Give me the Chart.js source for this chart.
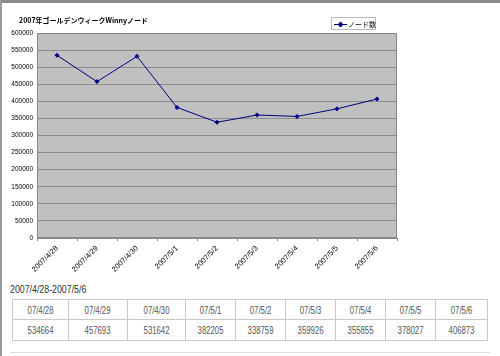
<!DOCTYPE html>
<html><head><meta charset="utf-8">
<script src="https://cdn.jsdelivr.net/npm/chart.js@4/dist/chart.umd.min.js"></script>
<style>
html,body{margin:0;padding:0;background:#fff;width:500px;height:356px;overflow:hidden;position:relative;}
#topbar{position:absolute;left:0;top:0;width:500px;height:3px;background:#8a8a8a;}
#leftbar{position:absolute;left:0;top:0;width:2px;height:356px;background:#9a9a9a;}
#c{position:absolute;left:0;top:0;}
#title{position:absolute;left:19px;top:15px;font:bold 7px "Noto Sans CJK JP","Liberation Sans",sans-serif;color:#000;white-space:nowrap;}
#legend{position:absolute;left:331px;top:17px;width:45px;height:13px;box-sizing:border-box;border:1px solid #bbb;background:#fff;font:7px "Noto Sans CJK JP",sans-serif;color:#000;white-space:nowrap;}
#legend canvas{position:absolute;left:2px;top:2px;}
#legend span{position:absolute;left:16px;top:1px;}
#caption{position:absolute;left:10px;top:284px;font:10px "Liberation Sans",sans-serif;color:#333;white-space:nowrap;transform:scaleX(0.88);transform-origin:left center;}
table{position:absolute;left:12px;top:299px;border-collapse:collapse;font:10.5px "Liberation Sans",sans-serif;color:#555;}
td{border:1px solid #c8c8c8;padding:0;text-align:center;box-sizing:border-box;}
td span{display:inline-block;transform:scaleX(0.74);}
#bottomline{position:absolute;left:10px;top:352px;width:480px;height:1px;background:#ddd;}
</style></head>
<body>
<div id="topbar"></div><div id="leftbar"></div>
<canvas id="c" width="500" height="280"></canvas>
<div id="title"></div>
<div id="legend"><canvas id="lg" width="14" height="8"></canvas><span id="lgtext"></span></div>
<div id="caption"></div>
<table id="tbl"></table>
<div id="bottomline"></div>
<script>
const chartTitle = "2007年ゴールデンウィークWinnyノード";
const seriesName = "ノード数";
const categories = ["2007/4/28","2007/4/29","2007/4/30","2007/5/1","2007/5/2","2007/5/3","2007/5/4","2007/5/5","2007/5/6"];
const nodeCounts = [534664,457693,531642,382205,338759,359926,355855,378027,406873];
const tableHeaders = ["07/4/28","07/4/29","07/4/30","07/5/1","07/5/2","07/5/3","07/5/4","07/5/5","07/5/6"];
const tableCaption = "2007/4/28-2007/5/6";
const colWidths = [56,59,58,50,50,50,50,50,52];

document.getElementById('title').textContent = chartTitle;
document.getElementById('lgtext').textContent = seriesName;
document.getElementById('caption').textContent = tableCaption;

const tbl = document.getElementById('tbl');
const r1 = tbl.insertRow(), r2 = tbl.insertRow();
tableHeaders.forEach((h,i)=>{
  const a=r1.insertCell(); a.innerHTML='<span></span>'; a.firstChild.textContent=h; a.style.width=colWidths[i]+'px'; a.style.height='20px';
  const b=r2.insertCell(); b.innerHTML='<span></span>'; b.firstChild.textContent=String(nodeCounts[i]); b.style.width=colWidths[i]+'px'; b.style.height='21px';
});

// legend marker
const lg = document.getElementById('lg').getContext('2d');
lg.strokeStyle='#000080'; lg.lineWidth=1;
lg.beginPath(); lg.moveTo(0,4.5); lg.lineTo(13,4.5); lg.stroke();
lg.fillStyle='#000080'; lg.beginPath(); lg.moveTo(6.5,1.5); lg.lineTo(9.5,4.5); lg.lineTo(6.5,7.5); lg.lineTo(3.5,4.5); lg.closePath(); lg.fill();

const plotBg = {
  id:'plotBg',
  beforeDraw(chart){
    const {ctx, chartArea:a} = chart;
    ctx.save(); ctx.fillStyle='#c0c0c0'; ctx.fillRect(a.left,a.top,a.right-a.left,a.bottom-a.top); ctx.restore();
  },
  beforeDatasetsDraw(chart){
    const {ctx, chartArea:a} = chart;
    ctx.save(); ctx.strokeStyle='#888'; ctx.lineWidth=1;
    ctx.strokeRect(a.left+0.5,a.top+0.5,a.right-a.left-1,a.bottom-a.top-1); ctx.restore();
  }
};

new Chart(document.getElementById('c'), {
  type:'line',
  data:{labels:categories, datasets:[{label:seriesName, data:nodeCounts, borderColor:'#000080', backgroundColor:'#000080', borderWidth:1, pointStyle:'rectRot', pointRadius:2.5, pointBorderWidth:0, tension:0}]},
  options:{
    responsive:false, animation:false, devicePixelRatio:1,
    layout:{padding:{top:33,right:103,left:0,bottom:0}},
    plugins:{legend:{display:false}, title:{display:false}, tooltip:{enabled:false}},
    scales:{
      x:{type:'category', offset:true,
        grid:{display:true, drawOnChartArea:false, offset:true, tickLength:3, color:'#888'},
        border:{display:true,color:'#888'},
        ticks:{maxRotation:45,minRotation:45,autoSkip:false,padding:3,color:'#000',font:{family:'"Liberation Sans", sans-serif',size:7.5}},
        afterFit(s){s.height=42;}
      },
      y:{min:0,max:600000,
        ticks:{stepSize:50000,padding:4,color:'#000',font:{family:'"Liberation Sans", sans-serif',size:6.5},callback:(v)=>String(v)},
        grid:{color:'#8c8c8c',drawTicks:false,lineWidth:1},
        border:{display:true,color:'#888'},
        afterFit(s){s.width=37;}
      }
    }
  },
  plugins:[plotBg]
});
</script>
</body></html>
